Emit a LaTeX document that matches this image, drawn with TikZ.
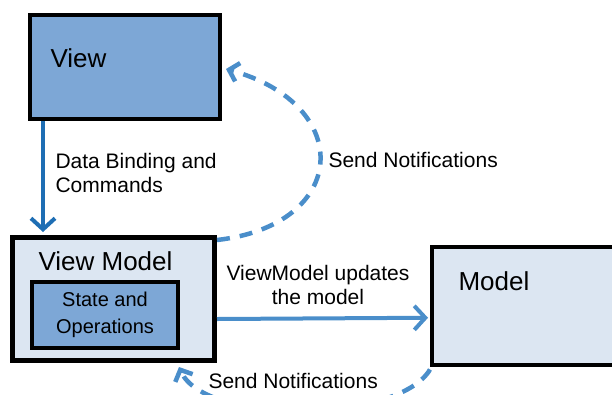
\documentclass[tikz,border=0pt]{standalone}
\usepackage{fontspec}
\setmainfont{Liberation Sans}
\usetikzlibrary{positioning,arrows.meta}

\definecolor{boxblue}{RGB}{125,167,214}
\definecolor{boxlight}{RGB}{220,230,242}
\definecolor{arrowdark}{RGB}{30,110,180}
\definecolor{arrowblue}{RGB}{74,142,202}

\begin{document}
\begin{tikzpicture}[
	x=1pt,y=-1pt,
	font=\fontsize{21}{24}\selectfont,
	box/.style={
	draw=black,line width=4pt,inner sep=0pt,
	},
	titel/.style={font=\fontsize{26}{30}\selectfont},
	arrowline/.style={
	line width=4pt,-{Straight Barb[length=11pt,width=24pt,line width=4pt]},
	},
	dashline/.style={
	draw=arrowblue,line width=4.5pt,dash pattern=on 13pt off 10pt,
	-{Straight Barb[length=9pt,width=19pt,line width=4.5pt]},
	}
	]

\useasboundingbox (0,0) rectangle (612,394);
\clip (0,0) rectangle (612,394);

% boxes
\node[box,fill=boxblue,minimum width=190pt,minimum height=104pt,anchor=north west] (view) at (28,13) {};
\node[box,fill=boxlight,line width=5pt,minimum width=202pt,minimum height=123pt,anchor=north west] (vm) at (10,235) {};
\node[box,fill=boxblue,line width=3.5pt,minimum width=146pt,minimum height=66pt,align=center,font=\fontsize{20}{27}\selectfont] (state) at (105,315) {State and\\Operations};
\node[box,fill=boxlight,line width=3.5pt,minimum width=200pt,minimum height=118pt,anchor=north west] (model) at (430,245) {};

% titles
\node[titel,anchor=base west] (viewtitle) at (47,67) {View};
\node[titel,anchor=base west] (vmtitle) at (35,270) {View Model};
\node[titel,anchor=base west] (modeltitle) at (455,290) {Model};

% labels
\node[anchor=west,align=left] (bindlabel) at (52,173) {Data Binding and\\Commands};
\node[align=center] (updatelabel) at (318,285) {ViewModel updates\\the model};
\node[anchor=west] (notifytop) at (325,160) {Send Notifications};
\node[anchor=west] (notifybottom) at (205,381) {Send Notifications};

% connectors
\draw[arrowline,arrowdark] ([xshift=15pt]view.south west) -- ([xshift=33pt,yshift=3pt]vm.north west);
\draw[arrowline,arrowblue] ([yshift=-20pt]vm.east) -- ([yshift=-12pt,xshift=-2pt]model.west);
\draw[dashline] ([yshift=-5pt]vm.north east) .. controls +(132,-15) and +(130,36) .. ([xshift=4pt,yshift=-2pt]view.east);
\draw[dashline] ([yshift=-3pt]model.south west) .. controls +(-32,54) and +(26,58) .. ([xshift=-38pt,yshift=-4pt]vm.south east);

\end{tikzpicture}
\end{document}
